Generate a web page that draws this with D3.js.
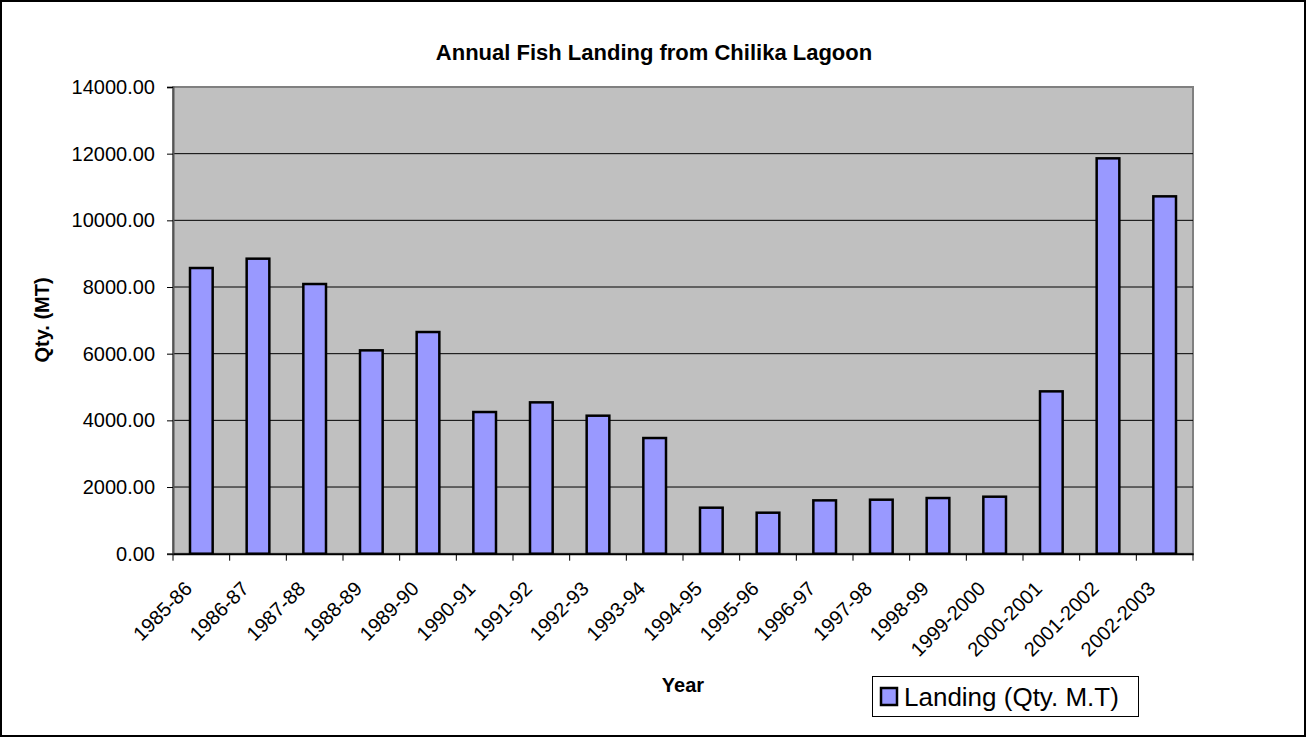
<!DOCTYPE html>
<html>
<head>
<meta charset="utf-8">
<script src="https://cdn.jsdelivr.net/npm/d3@7"></script>
<style>
  html, body { margin: 0; padding: 0; background: #fff; }
  svg { display: block; font-family: "Liberation Sans", Arial, sans-serif; }
</style>
</head>
<body>
<svg id="chart" width="1307" height="738"></svg>
<script>
const categories = ["1985-86","1986-87","1987-88","1988-89","1989-90","1990-91","1991-92","1992-93","1993-94","1994-95","1995-96","1996-97","1997-98","1998-99","1999-2000","2000-2001","2001-2002","2002-2003"];
const landing = [8570, 8850, 8090, 6100, 6650, 4250, 4540, 4140, 3470, 1380, 1230, 1600, 1620, 1670, 1710, 4870, 11860, 10720];
const yTicks = [0, 2000, 4000, 6000, 8000, 10000, 12000, 14000];
const chartTitle = "Annual Fish Landing from Chilika Lagoon";
const xTitle = "Year";
const yTitle = "Qty. (MT)";
const seriesName = "Landing (Qty. M.T)";

const svg = d3.select("#chart");
const W = 1307, H = 738;
const plot = { left: 173, right: 1193, top: 87, bottom: 553.7 };

// outer border
svg.append("rect").attr("x", 1).attr("y", 1).attr("width", W - 3).attr("height", H - 3)
  .attr("fill", "#fff").attr("stroke", "#000").attr("stroke-width", 2);

const x = d3.scaleBand().domain(categories).range([plot.left, plot.right])
  .paddingInner(0.6).paddingOuter(0.3);
const y = d3.scaleLinear().domain([0, 14000]).range([plot.bottom, plot.top]);

// plot background
svg.append("rect").attr("x", plot.left).attr("y", plot.top)
  .attr("width", plot.right - plot.left).attr("height", plot.bottom - plot.top)
  .attr("fill", "#C0C0C0").attr("stroke", "#808080").attr("stroke-width", 2);

// gridlines
svg.append("g").selectAll("line").data(yTicks.filter(d => d > 0 && d < 14000)).join("line")
  .attr("x1", plot.left).attr("x2", plot.right)
  .attr("y1", d => y(d)).attr("y2", d => y(d))
  .attr("stroke", "#000").attr("stroke-width", 1);

// y axis
const yAxis = svg.append("g").attr("transform", `translate(${plot.left},0)`)
  .call(d3.axisLeft(y).tickValues(yTicks).tickFormat(d3.format(".2f")).tickSize(6).tickPadding(12));
yAxis.select(".domain").attr("stroke", "#555").attr("stroke-width", 2);
yAxis.selectAll(".tick line").attr("stroke", "#000");
yAxis.selectAll("text").attr("font-size", 20).attr("fill", "#000")
  .attr("font-family", "Liberation Sans, Arial, sans-serif");

// x axis
const xAxis = svg.append("g").attr("transform", `translate(0,${plot.bottom})`)
  .call(d3.axisBottom(x).tickSize(0).tickFormat(""));
xAxis.select(".domain").attr("stroke", "#000").attr("stroke-width", 2);
// ticks at category boundaries
const boundaryPos = d3.range(categories.length + 1).map(i => plot.left + i * x.step());
svg.append("g").selectAll("line").data(boundaryPos).join("line")
  .attr("x1", d => d).attr("x2", d => d)
  .attr("y1", plot.bottom).attr("y2", plot.bottom + 7)
  .attr("stroke", "#000").attr("stroke-width", 1);

// x labels
svg.append("g").selectAll("text").data(categories).join("text")
  .attr("transform", d => `translate(${x(d) + x.bandwidth() / 2 - 8},590) rotate(-45)`)
  .attr("text-anchor", "end")
  .attr("font-size", 20)
  .attr("fill", "#000")
  .text(d => d);

// bars
svg.append("g").selectAll("rect").data(landing).join("rect")
  .attr("x", (d, i) => x(categories[i]))
  .attr("y", d => y(d))
  .attr("width", x.bandwidth())
  .attr("height", d => plot.bottom - y(d))
  .attr("fill", "#9999FF").attr("stroke", "#000").attr("stroke-width", 2.5);

// titles
svg.append("text").attr("x", 654).attr("y", 60).attr("text-anchor", "middle")
  .attr("font-size", 22).attr("font-weight", "bold").text(chartTitle);
svg.append("text").attr("x", 683).attr("y", 692).attr("text-anchor", "middle")
  .attr("font-size", 20).attr("font-weight", "bold").text(xTitle);
svg.append("text").attr("transform", "translate(49,320) rotate(-90)").attr("text-anchor", "middle")
  .attr("font-size", 20).attr("font-weight", "bold").text(yTitle);

// legend
const lg = svg.append("g");
lg.append("rect").attr("x", 872.5).attr("y", 676.5).attr("width", 266).attr("height", 40)
  .attr("fill", "#fff").attr("stroke", "#000").attr("stroke-width", 1);
lg.append("rect").attr("x", 881).attr("y", 688).attr("width", 16).attr("height", 17)
  .attr("fill", "#9999FF").attr("stroke", "#000").attr("stroke-width", 2.5);
lg.append("text").attr("x", 904).attr("y", 706).attr("font-size", 26).attr("fill", "#000").text(seriesName);
</script>
</body>
</html>
